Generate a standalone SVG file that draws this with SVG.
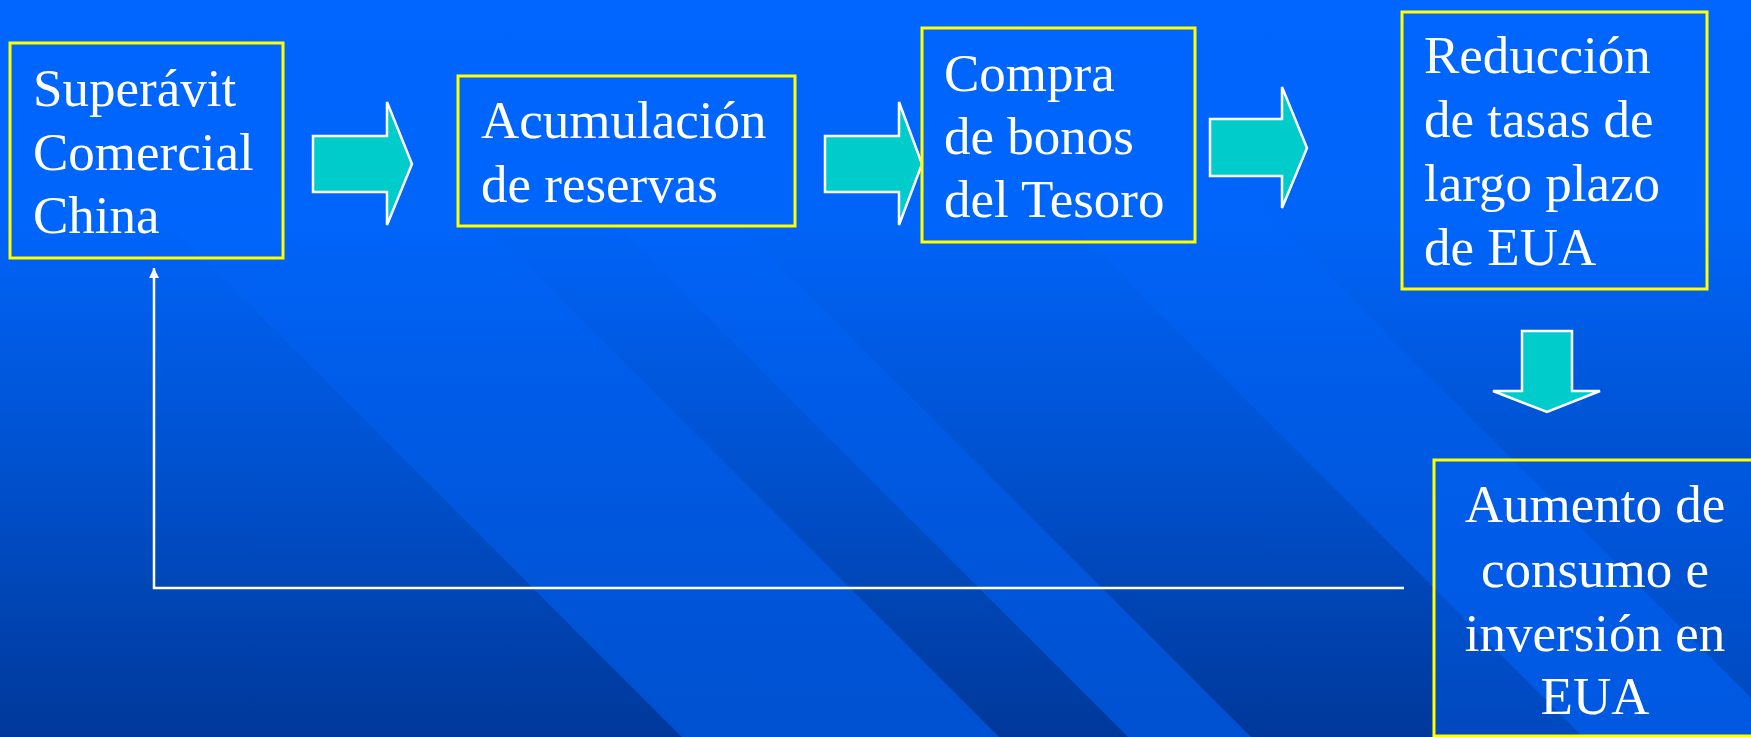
<svg xmlns="http://www.w3.org/2000/svg" width="1751" height="737" viewBox="0 0 1751 737">
  <defs>
    <linearGradient id="bg" x1="0" y1="0" x2="0" y2="1">
      <stop offset="0" stop-color="#0066FF"/>
      <stop offset="0.3" stop-color="#0064F8"/>
      <stop offset="0.65" stop-color="#0050CC"/>
      <stop offset="1" stop-color="#00389A"/>
    </linearGradient>
    <linearGradient id="band" x1="0" y1="0" x2="0" y2="737" gradientUnits="userSpaceOnUse">
      <stop offset="0" stop-color="#0066FF" stop-opacity="0"/>
      <stop offset="0.3" stop-color="#0066FF" stop-opacity="0.25"/>
      <stop offset="1" stop-color="#0066FF" stop-opacity="0.55"/>
    </linearGradient>
    <marker id="ah" viewBox="0 0 10 10" refX="10" refY="5" markerWidth="10" markerHeight="10" markerUnits="userSpaceOnUse" orient="auto">
      <path d="M0,0 L10,5 L0,10 z" fill="#FFFFFF"/>
    </marker>
    <style>
      .box { fill: #0066FF; fill-opacity: 0.35; stroke: #FFFF00; stroke-width: 3; }
      .arrow { fill: #00CCCC; stroke: #FFFFFF; stroke-width: 2.5; stroke-linejoin: miter; }
      .lbl { font-family: "Liberation Serif", "Times New Roman", serif; font-size: 53px; fill: #FFFFFF; }
      .mid { text-anchor: middle; }
      .conn { fill: none; stroke: #FFFFFF; stroke-width: 2.5; }
    </style>
  </defs>

  <g id="background">
    <rect x="0" y="0" width="1751" height="737" fill="url(#bg)"/>
    <polygon points="-55,0 262,0 999,737 682,737" fill="url(#band)"/>
    <polygon points="391,0 514,0 1251,737 1128,737" fill="url(#band)"/>
    <polygon points="846,0 1053,0 1790,737 1583,737" fill="url(#band)"/>
  </g>

  <g id="connectors">
    <polygon class="arrow" points="313,136 387,136 387,102 412,164 387,225 387,192 313,192"/>
    <polygon class="arrow" points="825,136 899,136 899,102 922,164 899,225 899,192 825,192"/>
    <polygon class="arrow" points="1210,119 1282,119 1282,87 1307,148 1282,208 1282,176 1210,176"/>
    <polygon class="arrow" points="1522,331 1572,331 1572,391 1600,391 1547,412 1493,391 1522,391"/>
    <path class="conn" d="M1404,588 H154 V268" marker-end="url(#ah)"/>
  </g>

  <g id="node-superavit">
    <rect class="box" x="10" y="43" width="273" height="215"/>
    <text class="lbl" x="33" y="106">Superávit</text>
    <text class="lbl" x="33" y="170">Comercial</text>
    <text class="lbl" x="33" y="233">China</text>
  </g>

  <g id="node-acumulacion">
    <rect class="box" x="458" y="76" width="337" height="150"/>
    <text class="lbl" x="481" y="138">Acumulación</text>
    <text class="lbl" x="481" y="202">de reservas</text>
  </g>

  <g id="node-compra">
    <rect class="box" x="922" y="28" width="273" height="214"/>
    <text class="lbl" x="944" y="91">Compra</text>
    <text class="lbl" x="944" y="154">de bonos</text>
    <text class="lbl" x="944" y="217">del Tesoro</text>
  </g>

  <g id="node-reduccion">
    <rect class="box" x="1402" y="12" width="305" height="277"/>
    <text class="lbl" x="1424" y="73">Reducción</text>
    <text class="lbl" x="1424" y="137">de tasas de</text>
    <text class="lbl" x="1424" y="201">largo plazo</text>
    <text class="lbl" x="1424" y="265">de EUA</text>
  </g>

  <g id="node-aumento">
    <rect class="box" x="1434" y="460" width="330" height="276"/>
    <text class="lbl mid" x="1595" y="522">Aumento de</text>
    <text class="lbl mid" x="1595" y="587">consumo e</text>
    <text class="lbl mid" x="1595" y="651">inversión en</text>
    <text class="lbl mid" x="1595" y="714">EUA</text>
  </g>
</svg>
